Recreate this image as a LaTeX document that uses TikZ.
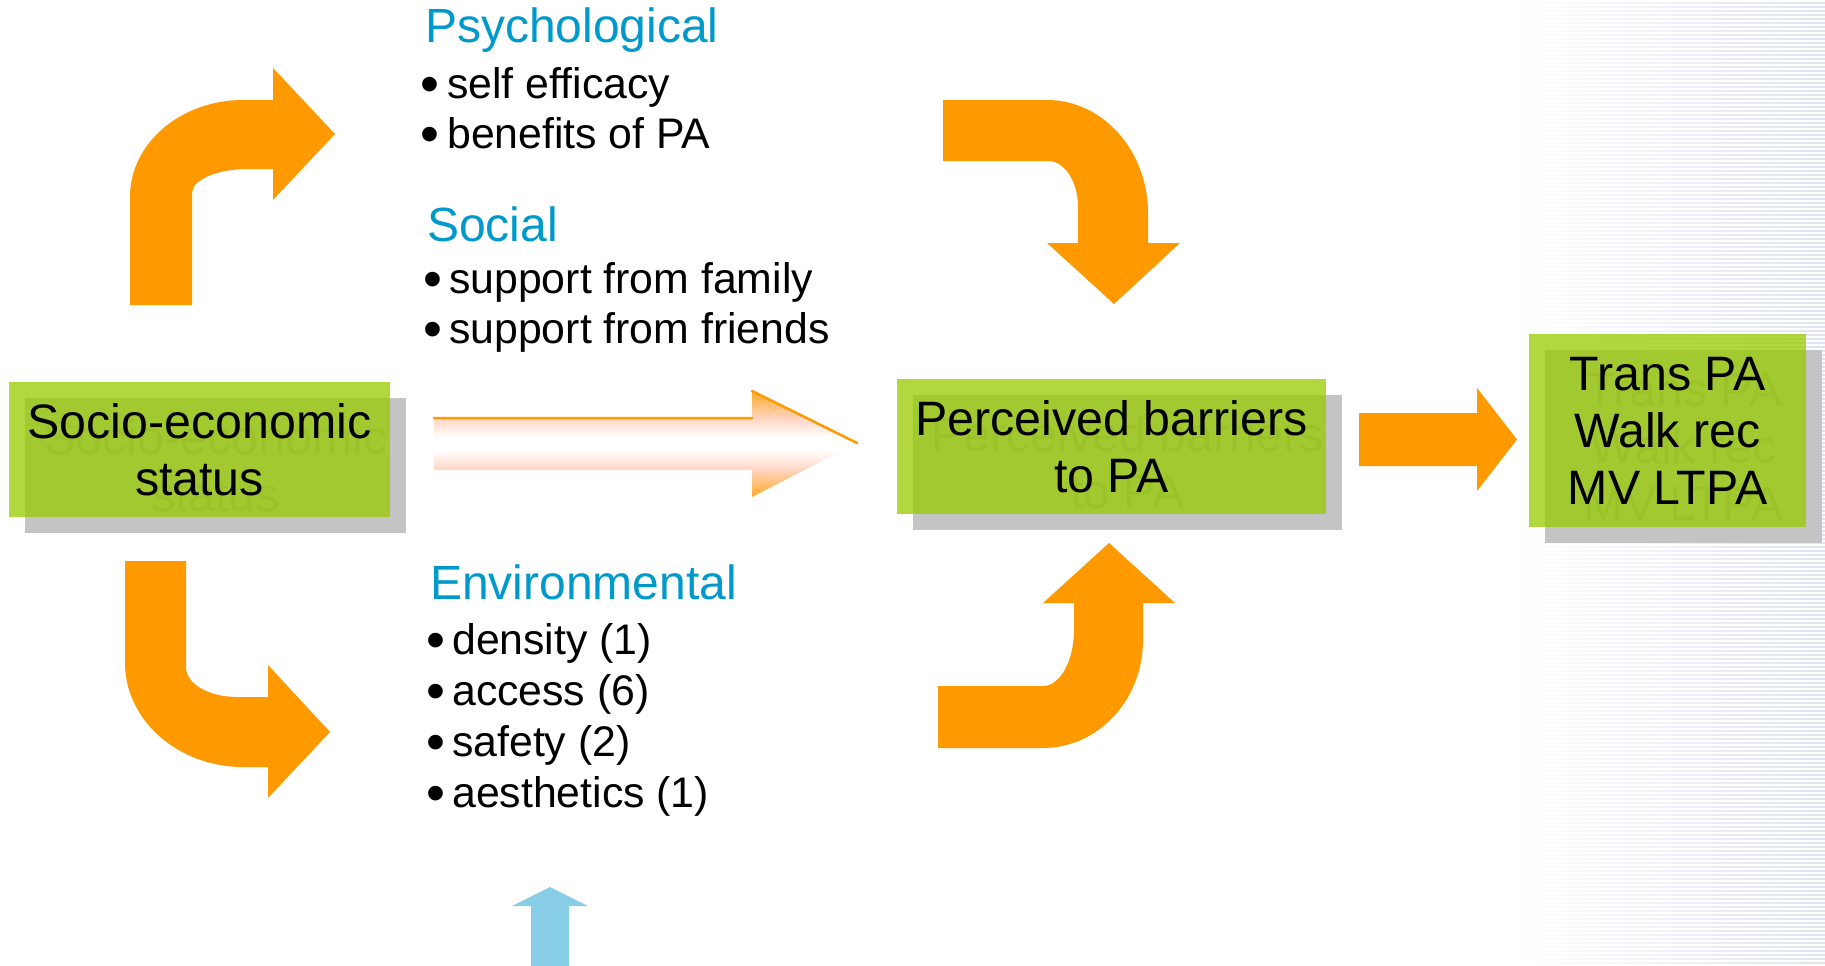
\documentclass[tikz,border=0pt]{standalone}
\usepackage{fontspec}
\setmainfont{Liberation Sans}
\definecolor{orangeA}{RGB}{255,153,0}
\definecolor{boxgreen}{RGB}{153,204,0}
\definecolor{shadowgray}{RGB}{196,196,196}
\definecolor{shadowtext}{RGB}{168,168,168}
\definecolor{headblue}{RGB}{0,153,204}
\definecolor{skyarrow}{RGB}{135,206,230}
\definecolor{peach}{RGB}{255,214,196}
\definecolor{stripe}{RGB}{222,228,244}
\pgfdeclareverticalshading{fadearrow}{100bp}{color(0bp)=(orangeA!85!white); color(25bp)=(orangeA!85!white); color(38bp)=(peach); color(47bp)=(white); color(53bp)=(white); color(62bp)=(peach); color(75bp)=(orangeA!85!white); color(100bp)=(orangeA!85!white)}
\begin{document}
\begin{tikzpicture}[x=1pt,y=-1pt,
  boxfont/.style={font=\fontsize{48.3}{57}\selectfont, align=center, inner sep=0},
  shadowbox/.style={fill=shadowgray, inner sep=0},
  greenbox/.style={fill=boxgreen, fill opacity=0.75, inner sep=0},
  shadowlabel/.style={boxfont, text=shadowtext},
  boxlabel/.style={boxfont, text=black},
  headtext/.style={font=\fontsize{48}{56}\selectfont, text=headblue, anchor=base west, inner sep=0},
  listtext/.style={font=\fontsize{42.8}{50}\selectfont, anchor=base west, inner sep=0},
  bulletmark/.style={font=\fontsize{54}{60}\selectfont, anchor=base west, inner sep=0},
  blockarrow/.style={fill=orangeA}]

\useasboundingbox (0,0) rectangle (1825,966);
\fill[white] (0,0) rectangle (1825,966);

% striped background at the right edge
\shade[left color=white, right color=stripe] (1515,0) rectangle (1825,966);
\foreach \yy in {0,4,...,964} \fill[white] (1515,\yy) rectangle (1825,\yy+2);

% ---- boxes: shadow, shadow text, translucent green face, label ----
\node[shadowbox, minimum width=381, minimum height=135] (sesShadow) at (215.5,465.5) {};
\node[shadowlabel] (sesShadowText) at (sesShadow) {Socio-economic\\status};
\node[greenbox, minimum width=381, minimum height=135] (ses) at (199.5,449.5) {};
\node[boxlabel] (sesText) at (ses) {Socio-economic\\status};

\node[shadowbox, minimum width=429, minimum height=135] (pbShadow) at (1127.5,462.5) {};
\node[shadowlabel] (pbShadowText) at (pbShadow) {Perceived barriers\\to PA};
\node[greenbox, minimum width=429, minimum height=135] (pb) at (1111.5,446.5) {};
\node[boxlabel] (pbText) at (pb) {Perceived barriers\\to PA};

\node[shadowbox, minimum width=277, minimum height=193] (outShadow) at (1683.5,446.5) {};
\node[shadowlabel] (outShadowText) at (outShadow) {Trans PA\\Walk rec\\MV LTPA};
\node[greenbox, minimum width=277, minimum height=193] (out) at (1667.5,430.5) {};
\node[boxlabel] (outText) at (out) {Trans PA\\Walk rec\\MV LTPA};

% ---- curved block arrows ----
% up then right, towards the psychological / social factors
\fill[blockarrow] (130,305) -- (130,197) .. controls (130,143) and (181,100) .. (243,100)
  -- (273,100) -- (273,68) -- (335,134) -- (273,200) -- (273,169) -- (247,169)
  .. controls (217,169) and (192,180) .. (192,193) -- (192,305) -- cycle;
% right then down, into perceived barriers
\fill[blockarrow] (943,100) -- (1047,100) .. controls (1103,100) and (1148,151) .. (1148,213)
  -- (1148,243) -- (1180,243) -- (1114,304) -- (1047,243) -- (1078,243) -- (1078,207)
  .. controls (1078,182) and (1065,161) .. (1048,161) -- (943,161) -- cycle;
% down then right, towards the environmental factors
\fill[blockarrow] (125,561) -- (186,561) -- (186,667) .. controls (186,684) and (209,697) .. (237,697)
  -- (268,697) -- (268,665) -- (330,732) -- (268,798) -- (268,767) -- (243,767)
  .. controls (178,767) and (125,720) .. (125,663) -- cycle;
% right then up, into perceived barriers
\fill[blockarrow] (938,686) -- (1043,686) .. controls (1060,686) and (1074,661) .. (1074,630)
  -- (1074,603) -- (1043,603) -- (1109,543) -- (1175,603) -- (1143,603) -- (1143,640)
  .. controls (1143,700) and (1098,748) .. (1043,748) -- (938,748) -- cycle;

% ---- straight arrows ----
\shade[shading=fadearrow] (434,418) -- (752,418) -- (752,391) -- (857,443) -- (752,497)
  -- (752,470) -- (434,470) -- cycle;
\draw[orangeA, line width=2.5, line cap=round] (434,418) -- (752,418) (752,391) -- (857,443);

\fill[blockarrow] (1359,413) -- (1477,413) -- (1477,388) -- (1517,439.5) -- (1477,491)
  -- (1477,466) -- (1359,466) -- cycle;

\fill[skyarrow] (531,966) -- (531,906) -- (512,906) -- (550,887) -- (588,906) -- (569,906)
  -- (569,966) -- cycle;

% ---- factor lists ----
\node[headtext] (psy) at (425,43) {Psychological};
\node[bulletmark] (psyB1) at (420,102) {•};
\node[listtext] (psy1) at (447,98) {self efficacy};
\node[bulletmark] (psyB2) at (420,152) {•};
\node[listtext] (psy2) at (447,148) {benefits of PA};

\node[headtext] (soc) at (427,241) {Social};
\node[bulletmark] (socB1) at (423,297) {•};
\node[listtext] (soc1) at (449,293) {support from family};
\node[bulletmark] (socB2) at (423,347) {•};
\node[listtext] (soc2) at (449,343) {support from friends};

\node[headtext] (env) at (430,599) {Environmental};
\node[bulletmark] (envB1) at (426,658) {•};
\node[listtext] (env1) at (452,654) {density (1)};
\node[bulletmark] (envB2) at (426,709) {•};
\node[listtext] (env2) at (452,705) {access (6)};
\node[bulletmark] (envB3) at (426,760) {•};
\node[listtext] (env3) at (452,756) {safety (2)};
\node[bulletmark] (envB4) at (426,811) {•};
\node[listtext] (env4) at (452,807) {aesthetics (1)};
\end{tikzpicture}
\end{document}
